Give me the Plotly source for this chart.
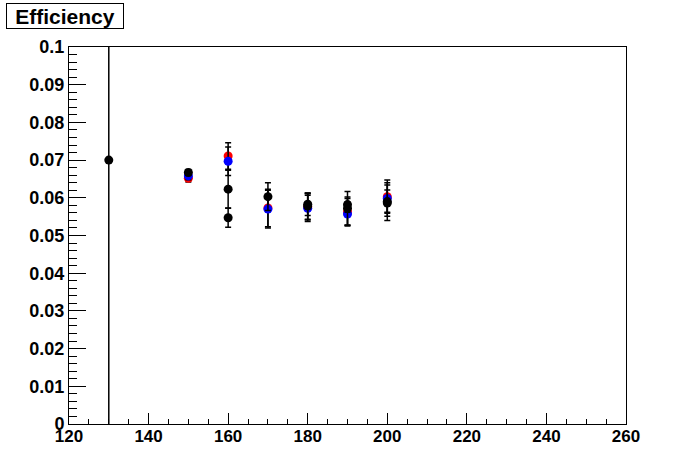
import plotly.graph_objects as go

# Data
red_x = [150, 160, 170, 180, 190, 200]
red_y = [0.0652, 0.0711, 0.0573, 0.0576, 0.0563, 0.0603]
red_err = [0.0010, 0.0035, 0.0050, 0.0035, 0.0035, 0.0044]

blue_x = [150, 160, 170, 180, 190, 200]
blue_y = [0.0658, 0.0697, 0.0570, 0.0572, 0.0557, 0.0598]
blue_err = [0.0010, 0.0038, 0.0050, 0.0035, 0.0032, 0.0036]

black_x = [130, 150, 160, 160, 170, 180, 180, 190, 190, 200, 200]
black_y = [0.0700, 0.0667, 0.0623, 0.0547, 0.0603, 0.0583, 0.0578, 0.0582, 0.0572, 0.0590, 0.0586]
black_err = [0.1000, 0.0008, 0.0050, 0.0025, 0.0037, 0.0030, 0.0035, 0.0020, 0.0045, 0.0050, 0.0035]

x_ticks = [120, 140, 160, 180, 200, 220, 240, 260]
y_ticks = [0, 0.01, 0.02, 0.03, 0.04, 0.05, 0.06, 0.07, 0.08, 0.09, 0.1]
y_tick_labels = ["0", "0.01", "0.02", "0.03", "0.04", "0.05", "0.06", "0.07", "0.08", "0.09", "0.1"]

FONT = "Liberation Sans, Arial, Helvetica, sans-serif"

fig = go.Figure()

def add_series(xs, ys, errs, color):
    fig.add_trace(go.Scatter(
        x=xs, y=ys, mode="markers",
        marker=dict(color=color, size=9, symbol="circle", line=dict(width=0)),
        error_y=dict(type="data", array=errs, visible=True, color="black",
                     thickness=1.5, width=3),
        showlegend=False, cliponaxis=True,
    ))

add_series(red_x, red_y, red_err, "#ff0000")
add_series(blue_x, blue_y, blue_err, "#0000ff")
add_series(black_x, black_y, black_err, "#000000")

fig.update_layout(
    width=696, height=472,
    margin=dict(l=69, r=70, t=47, b=48, autoexpand=False),
    paper_bgcolor="white", plot_bgcolor="white",
    font=dict(family=FONT, color="black"),
    showlegend=False,
)

fig.update_xaxes(
    range=[120, 260], tickvals=x_ticks, ticktext=[str(v) for v in x_ticks],
    ticks="inside", ticklen=11, tickwidth=1, tickcolor="black",
    minor=dict(dtick=5, tick0=120, ticks="inside", ticklen=5, tickcolor="black", tickwidth=1),
    showline=True, linecolor="black", linewidth=1, mirror=True,
    showgrid=False, zeroline=False, automargin=False,
    ticklabelstandoff=-3,
    tickfont=dict(family=FONT, size=17, color="black", weight="bold"),
)
fig.update_yaxes(
    range=[0, 0.1], tickvals=y_ticks, ticktext=y_tick_labels,
    ticks="inside", ticklen=17, tickwidth=1, tickcolor="black",
    minor=dict(dtick=0.002, tick0=0, ticks="inside", ticklen=8, tickcolor="black", tickwidth=1),
    showline=True, linecolor="black", linewidth=1, mirror=True,
    showgrid=False, zeroline=False, automargin=False,
    tickfont=dict(family=FONT, size=18, color="black", weight="bold"),
)

fig.add_annotation(
    text="Efficiency", xref="paper", yref="paper",
    x=(6 - 69) / 557, y=1 + (47 - 3) / 377, xanchor="left", yanchor="top",
    showarrow=False, align="center",
    font=dict(family=FONT, size=21, color="black", weight="bold"),
    bordercolor="black", borderwidth=1, borderpad=0, bgcolor="white",
    width=116, height=24,
)

fig.write_html("out.html", config={"displayModeBar": False},
               post_script="document.body.style.margin='0px';")
